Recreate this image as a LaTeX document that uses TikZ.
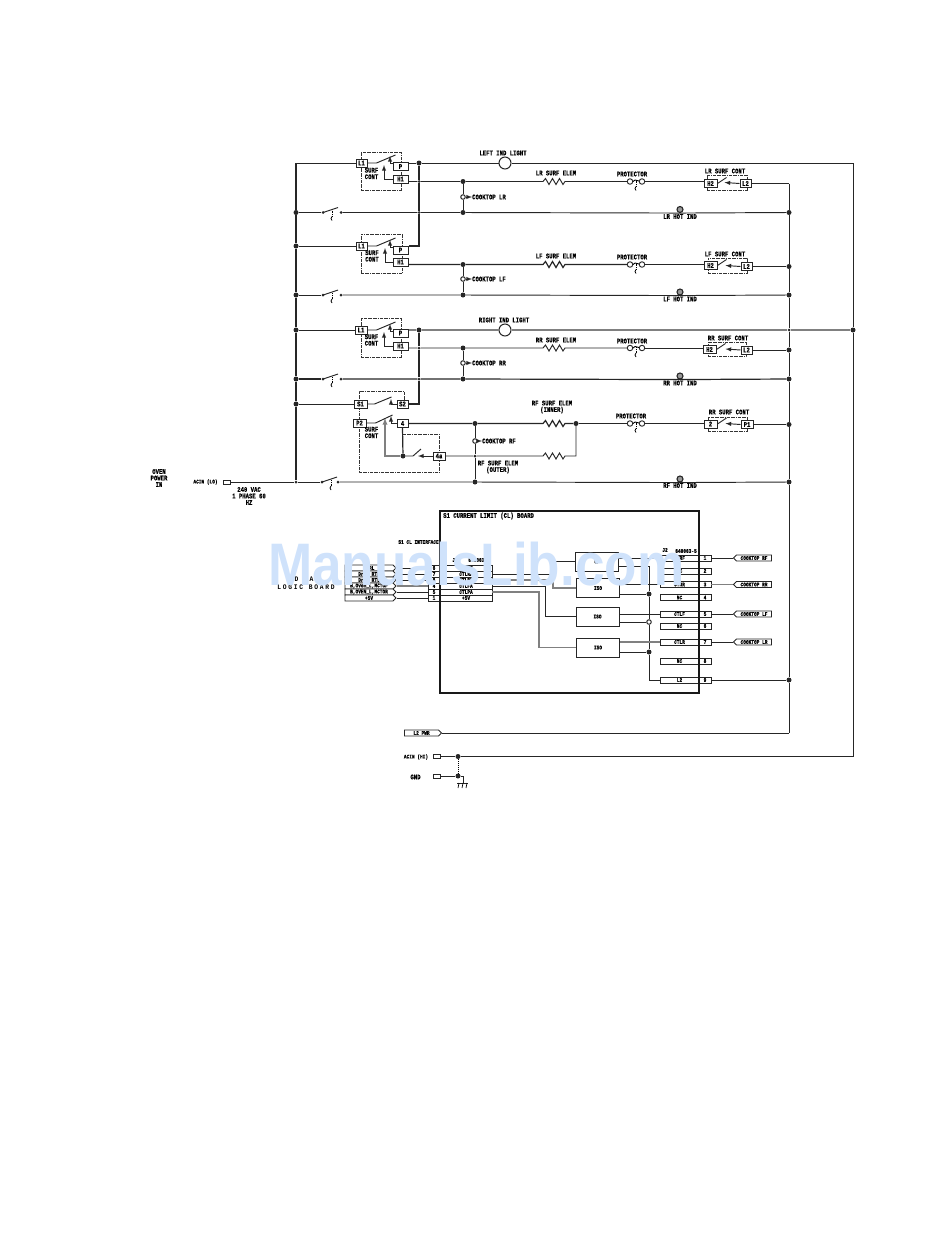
\documentclass[tikz,border=0pt]{standalone}
\usepackage{fontspec}
\usetikzlibrary{shapes.symbols}
\newfontfamily\wirefont[FakeStretch=0.8,BoldFeatures={FakeBold=0.4}]{Liberation Mono}
\newfontfamily\logicfont[FakeStretch=0.9,LetterSpace=25]{Liberation Mono}
\newfontfamily\markfont[FakeStretch=0.885]{Liberation Sans}
\definecolor{markblue}{HTML}{CFE2FB}
\newcommand{\bigtext}{\wirefont\bfseries\fontsize{7}{6.5}\selectfont}
\newcommand{\smalltext}{\wirefont\bfseries\fontsize{5.6}{5.6}\selectfont}
\newcommand{\zig}{-- ++(2.5,-3) -- ++(3.5,6) -- ++(3.5,-6) -- ++(3.5,6) -- ++(3.5,-6) -- ++(3.5,6) -- ++(2,-3)}
\tikzset{
  wire/.style={line width=.95pt,black!85},
  gwire/.style={line width=1.3pt,black!50},
  cwire/.style={wire,->,>=latex},
  jct/.style={circle,fill=black!85,minimum size=5pt,inner sep=0pt},
  ojct/.style={circle,draw=black!85,fill=white,line width=1pt,minimum size=4.5pt,inner sep=0pt},
  tdot/.style={circle,fill=black!85,minimum size=3pt,inner sep=0pt},
  lab/.style={font=\bigtext,inner sep=0pt,align=center},
  slab/.style={font=\smalltext,inner sep=0pt,align=center},
  cbox/.style={draw=black!85,fill=white,line width=1pt,font=\bigtext,inner sep=0pt,minimum width=#1,minimum height=8pt},
  cbox/.default=15pt,
  scont/.style={draw=black!80,densely dashdotted,line width=.8pt,inner sep=0pt},
  lamp/.style={circle,draw=black!85,fill=white,line width=1pt,minimum size=12pt,inner sep=0pt},
  prot/.style={circle,draw=black!85,fill=white,line width=.9pt,minimum size=5.5pt,inner sep=0pt},
  ind/.style={circle,draw=black!85,fill=black!40,line width=1.1pt,minimum size=6pt,inner sep=0pt},
  rowbox/.style={draw=black!85,fill=white,line width=.9pt,font=\smalltext,inner sep=0pt,minimum height=6pt,minimum width=#1},
  tagw/.style={signal,signal to=west,draw=black!85,fill=white,line width=.9pt,font=\smalltext,inner sep=0pt,minimum height=6pt,minimum width=38pt},
  tage/.style={signal,signal to=east,draw=black!85,fill=white,line width=.9pt,font=\smalltext,inner sep=0pt,minimum height=6pt,minimum width=#1},
  isobox/.style={draw=black!85,fill=white,line width=1pt,font=\smalltext,inner sep=0pt,minimum width=43pt,minimum height=19pt},
  acbox/.style={draw=black!85,fill=white,line width=.9pt,inner sep=0pt,minimum width=7pt,minimum height=4pt},
  handsw/.pic={
    \draw[wire] (0,0) -- (15,-5);
    \draw[line width=.8pt,densely dotted] (9,-2) -- (9,4);
    \draw[line width=.8pt] (9,4) -- (8,6) -- (9,8);
  },
  protlink/.pic={
    \draw[line width=.9pt] (3,0) -- (5,-1.5) -- (9,-.5);
    \draw[line width=.8pt,densely dotted] (6,-1) -- (6,5);
    \draw[line width=.8pt] (6,5) -- (5,7) -- (6,9);
  }
}
\begin{document}
\begin{tikzpicture}[x=1pt,y=-1pt]
  \useasboundingbox (0,0) rectangle (950,1237);

  % left feed and far right return
  \node[tdot] (acjoin) at (296,482) {};
  \coordinate (bustop) at (296,163);
  \coordinate (tr) at (853,163);
  \coordinate (br) at (853,756.5);
  \coordinate (rbustop) at (789,183.5);
  \coordinate (rbusend) at (789,733);

  % junctions, left bus
  \node[jct] (la1) at (296,212.5) {};
  \node[jct] (la2) at (296,246) {};
  \node[jct] (la3) at (296,295) {};
  \node[jct] (la4) at (296,330) {};
  \node[jct] (la5) at (296,379) {};
  \node[jct] (la6) at (296,404) {};

  % junctions, inner bus
  \node[jct] (ib1) at (419,163) {};
  \node[tdot] (ib2) at (419,181.5) {};
  \node[tdot] (ib3) at (419,212.5) {};
  \node[jct] (ib4) at (419,330) {};
  \node[tdot] (ib5) at (419,348) {};
  \node[tdot] (ib6) at (419,379) {};
  \coordinate (ib7) at (419,246);
  \coordinate (ib8) at (419,404);

  % junctions, cooktop columns
  \node[jct] (ca1) at (463,181.5) {};
  \node[ojct] (ca2) at (463,197) {};
  \node[jct] (ca3) at (463,212.5) {};
  \node[jct] (cb1) at (463,264.5) {};
  \node[ojct] (cb2) at (463,279) {};
  \node[jct] (cb3) at (463,295) {};
  \node[jct] (cc1) at (463,348) {};
  \node[ojct] (cc2) at (463,363) {};
  \node[jct] (cc3) at (463,379) {};
  \node[jct] (cd1) at (475,423.5) {};
  \node[ojct] (cd2) at (475,441) {};
  \node[tdot] (cd3) at (475,456) {};
  \node[jct] (cd4) at (475,482) {};

  % junctions, right bus
  \node[jct] (ra1) at (789,212.5) {};
  \node[jct] (ra2) at (789,266.5) {};
  \node[jct] (ra3) at (789,295) {};
  \node[tdot] (ra4) at (789,330) {};
  \node[jct] (ra5) at (789,350) {};
  \node[jct] (ra6) at (789,379) {};
  \node[jct] (ra7) at (789,424.5) {};
  \node[jct] (ra8) at (789,482) {};
  \node[jct] (ra9) at (789,680) {};
  \node[jct] (fr1) at (853,330) {};

  % surface controls
  \node[scont,minimum width=40pt,minimum height=38pt] (sc1) at (381,171) {};
  \node[scont,minimum width=41pt,minimum height=39pt] (sc2) at (381.5,253.5) {};
  \node[scont,minimum width=40pt,minimum height=39pt] (sc3) at (381,337.5) {};
  \draw[scont] (404,400) -- (404,391) -- (359,391) -- (359,472) -- (439,472) -- (439,434) -- (403,434);

  \node[cbox=11pt] (lr1) at (361.5,163) {L1};
  \node[cbox] (lrp) at (400.5,166.5) {P};
  \node[cbox] (lrh) at (400.5,179) {H1};
  \node[cbox=11pt] (lf1) at (361.5,246) {L1};
  \node[cbox] (lfp) at (400.5,250) {P};
  \node[cbox] (lfh) at (400.5,262) {H1};
  \node[cbox=12pt] (rr1) at (361,330) {L1};
  \node[cbox] (rrp) at (400.5,333) {P};
  \node[cbox] (rrh) at (400.5,346) {H1};
  \node[cbox=13pt] (rfs1) at (360.5,404) {S1};
  \node[cbox=11pt] (rfs2) at (402.5,404) {S2};
  \node[cbox=13pt] (rfp2) at (359.5,423) {P2};
  \node[cbox=11pt] (rf4) at (402.5,423.5) {4};
  \node[cbox=12pt] (rf4a) at (439,456) {4a};

  \node[scont,minimum width=40pt,minimum height=15pt] (sd1) at (727,182.5) {};
  \node[scont,minimum width=39pt,minimum height=15pt] (sd2) at (727.5,265.5) {};
  \node[scont,minimum width=38pt,minimum height=14pt] (sd3) at (727,349) {};
  \node[scont,minimum width=39pt,minimum height=14pt] (sd4) at (727.5,424) {};
  \node[cbox=13pt] (lrh2) at (710.5,183.5) {H2};
  \node[cbox=11pt] (lrl2) at (745.5,183.5) {L2};
  \node[cbox=13pt] (lfh2) at (710.5,265.5) {H2};
  \node[cbox=11pt] (lfl2) at (746.5,266.5) {L2};
  \node[cbox=13pt] (rrh2) at (709.5,349.5) {H2};
  \node[cbox=11pt] (rrl2) at (746.5,350) {L2};
  \node[cbox=13pt] (rfh2) at (710.5,424) {2};
  \node[cbox=12pt] (rfp1) at (747,424.5) {P1};

  % lamps, protectors
  \node[lamp] (lmp1) at (505,163) {};
  \node[lamp] (lmp2) at (505,330) {};
  \node[prot] (pa1) at (630,181.5) {};
  \node[prot] (pa2) at (642,181.5) {};
  \node[prot] (pb1) at (630,264.5) {};
  \node[prot] (pb2) at (642,264.5) {};
  \node[prot] (pc1) at (630,348) {};
  \node[prot] (pc2) at (642,348) {};
  \node[prot] (pd1) at (630,423.5) {};
  \node[prot] (pd2) at (642,423.5) {};
  \pic at (pa1) {protlink};
  \pic at (pb1) {protlink};
  \pic at (pc1) {protlink};
  \pic at (pd1) {protlink};

  % hand switches
  \node[tdot] (swa1) at (323,212.5) {};
  \node[tdot] (swa2) at (341,212.5) {};
  \node[tdot] (swb1) at (323,295) {};
  \node[tdot] (swb2) at (341,295) {};
  \node[tdot] (swc1) at (323,379) {};
  \node[tdot] (swc2) at (341,379) {};
  \node[tdot] (swd1) at (322,482) {};
  \node[tdot] (swd2) at (338,482) {};
  \pic at (swa1) {handsw};
  \pic at (swb1) {handsw};
  \pic at (swc1) {handsw};
  \pic at (swd1) {handsw};

  % indicators
  \node[ind] (nda) at (680,209.5) {};
  \node[ind] (ndb) at (680,292) {};
  \node[ind] (ndc) at (680,376) {};
  \node[ind] (ndd) at (680,479) {};

  % main wiring
  \draw[wire,line width=1.2pt] (bustop) -- (la1) -- (la2) -- (la3) -- (la4) -- (la5) -- (la6) -- (acjoin);
  \draw[wire] (bustop) -- (bustop -| lr1.west);
  \draw[wire] (ib1) -- (ib1 -| lrp.east);
  \draw[wire] (ib1) -- (lmp1) -- (tr) -- (fr1) -- (br);
  \draw[wire,line width=1.2pt] (ib1) -- (ib2) -- (ib3) -- (ib7) -- (ib7 -| lfp.east);
  \draw[wire,line width=1.2pt] (ib4) -- (ib5) -- (ib6) -- (ib8) -- (ib8 -| rfs2.east);
  \draw[gwire] (ib4 -| rrp.east) -- (ib4) -- (lmp2) -- (ra4) -- (fr1);
  \draw[wire] (rbustop) -- (ra1) -- (ra2) -- (ra3) -- (ra4) -- (ra5) -- (ra6) -- (ra7) -- (ra8) -- (ra9) -- (rbusend);

  % LR row
  \draw[wire] (ib2 -| lrh.east) -- (ib2) -- (ca1) -- (543,181.5) \zig -- (pa1);
  \draw[wire] (pa2) -- (pa2 -| lrh2.west);
  \draw[wire] (lrl2.east) -- (rbustop);
  \draw[wire] (la1) -- (swa1);
  \draw[wire] (swa2) -- (ib3) -- (ca3) -- (nda.south) -- (ra1);
  \draw[wire] (ca1) -- (ca2) -- (ca3);
  % LF row
  \draw[wire] (la2) -- (lf1.west);
  \draw[wire,line width=1.2pt] (cb1 -| lfh.east) -- (cb1) -- (543,264.5) \zig -- (pb1);
  \draw[wire] (pb2) -- (pb2 -| lfh2.west);
  \draw[wire,line width=1.2pt] (lfl2.east) -- (ra2);
  \draw[wire] (la3) -- (swb1);
  \draw[wire] (swb2) -- (cb3) -- (ndb.south) -- (ra3);
  \draw[wire] (cb1) -- (cb2) -- (cb3);
  % RR row
  \draw[wire] (la4) -- (rr1.west);
  \draw[wire] (ib5 -| rrh.east) -- (ib5) -- (cc1) -- (543,348) \zig -- (pc1);
  \draw[wire] (pc2) -- (pc2 -| rrh2.west);
  \draw[wire] (rrl2.east) -- (ra5);
  \draw[wire,line width=1.2pt] (la5) -- (swc1);
  \draw[wire,line width=1.2pt] (swc2) -- (ib6) -- (cc3) -- (ndc.south) -- (ra6);
  \draw[wire] (cc1) -- (cc2) -- (cc3);
  % RF row
  \draw[wire] (la6) -- (rfs1.west);
  \node[jct] (rfend) at (576,423.5) {};
  \draw[wire,line width=1.2pt] (rf4.east) -- (cd1) -- (543,423.5) \zig -- (rfend);
  \draw[wire] (rfend) -- (pd1);
  \draw[wire] (pd2) -- (pd2 -| rfh2.west);
  \draw[wire,line width=1.2pt] (rfp1.east) -- (ra7);
  \draw[wire] (cd1) -- (cd2) -- (cd3) -- (cd4);
  \draw[wire] (rf4a.east) -- (cd3) -- (543,456) \zig -- (576,456) -- (rfend);
  \node[jct] (rfsw) at (403,456) {};
  \draw[wire,line width=1.2pt] (rf4.south) -- (rfsw);
  \draw[gwire,<-,>=latex] (385,418) -- (385,456) -- (rfsw);
  \draw[wire] (rfsw) -- (413,456) -- ++(8,-7);
  \draw[cwire] (rf4a.west) -- (418,456);
  % contacts
  \draw[wire] (lr1.east) -- ++(9,0) -- ++(19,-8);
  \draw[cwire] (lrp.west |- 0,163) -- (390,163) -- (390,156);
  \draw[cwire] (lrh.west) -- (384,179) -- (384,165);
  \draw[wire] (lf1.east) -- ++(9,0) -- ++(19,-8);
  \draw[cwire] (lfp.west |- 0,247) -- (390,247) -- (390,240);
  \draw[cwire] (lfh.west) -- (385,262) -- (385,248);
  \draw[wire] (rr1.east) -- ++(9,0) -- ++(19,-8);
  \draw[cwire] (rrp.west |- 0,331) -- (390,331) -- (390,324);
  \draw[cwire] (rrh.west) -- (384,346) -- (384,332);
  \draw[wire] (rfs1.east) -- ++(7,0) -- ++(17,-7);
  \draw[cwire] (rfs2.west) -- (391,404) -- (391,399);
  \draw[wire] (rfp2.east) -- ++(9,0) -- ++(17,-8);
  \draw[cwire] (rf4.west) -- (391,423.5) -- (391,416);
  \draw[wire] (lrh2.east) -- ++(9,-6);
  \draw[cwire] (lrl2.west) -- ++(-15,-1);
  \draw[wire] (lfh2.east) -- ++(9,-6);
  \draw[cwire] (lfl2.west) -- ++(-15,-1);
  \draw[wire] (rrh2.east) -- ++(9,-6);
  \draw[cwire] (rrl2.west) -- ++(-15,-1);
  \draw[wire] (rfh2.east) -- ++(9,-6);
  \draw[cwire] (rfp1.west) -- ++(-15,-1);

  % AC feed
  \node[acbox] (acl) at (226.5,482) {};
  \draw[wire] (acl.east) -- (acjoin) -- (swd1);
  \draw[wire] (swd2) -- (cd4) -- (ndd.south) -- (ra8);

  % logic board connector
  \node[tage=51pt] (lg1) at (369,568) {CTRL};
  \node[tage=51pt] (lg2) at (369,574) {DrvI RTL};
  \node[tage=51pt] (lg3) at (369,580) {DrvI RTL};
  \node[tage=51pt] (lg4) at (369,586) {B,Oven\_L,MCTOF};
  \node[tage=51pt] (lg5) at (369,592) {B,OVEN\_L,MCTOR};
  \node[tage=51pt] (lg6) at (369,598) {+5V};

  % S1 connector rows
  \node[rowbox=12pt] (ja1) at (434,568) {6};
  \node[rowbox=12pt] (ja2) at (434,574) {7};
  \node[rowbox=12pt] (ja3) at (434,580) {8};
  \node[rowbox=12pt] (ja4) at (434,586) {4};
  \node[rowbox=12pt] (ja5) at (434,592) {5};
  \node[rowbox=12pt] (ja6) at (434,598) {1};
  \node[rowbox=52pt] (jb1) at (466,568) {CTLRF};
  \node[rowbox=52pt] (jb2) at (466,574) {CTLRA};
  \node[rowbox=52pt] (jb3) at (466,580) {CTLRR};
  \node[rowbox=52pt] (jb4) at (466,586) {CTLFA};
  \node[rowbox=52pt] (jb5) at (466,592) {CTLPA};
  \node[rowbox=52pt] (jb6) at (466,598) {+5V};
  \draw[wire] (lg1.east) -- (ja1.west);
  \draw[wire] (lg2.east) -- (ja2.west);
  \draw[wire] (lg3.east) -- (ja3.west);
  \draw[gwire] (lg4.east) -- (ja4.west);
  \draw[wire] (lg5.east) -- (ja5.west);
  \draw[wire] (lg6.east) -- (ja6.west);

  % board blocks
  \node[isobox] (up) at (597,561.5) {uP};
  \node[isobox] (iso1) at (598,588) {ISO};
  \node[isobox] (iso2) at (597.5,616.5) {ISO};
  \node[isobox] (iso3) at (598,647.5) {ISO};

  % J2 rows
  \node[rowbox=39pt] (jc1) at (679.5,558) {CTRF};
  \node[rowbox=39pt] (jc2) at (679.5,571) {NC};
  \node[rowbox=39pt] (jc3) at (679.5,584.5) {CTRR};
  \node[rowbox=39pt] (jc4) at (679.5,597.5) {NC};
  \node[rowbox=39pt] (jc5) at (679.5,614) {CTLF};
  \node[rowbox=39pt] (jc6) at (679.5,626) {NC};
  \node[rowbox=39pt] (jc7) at (679.5,642) {CTLR};
  \node[rowbox=39pt] (jc8) at (679.5,661) {NC};
  \node[rowbox=39pt] (jc9) at (679.5,680) {L2};
  \node[rowbox=12pt] (jd1) at (705,558) {1};
  \node[rowbox=12pt] (jd2) at (705,571) {2};
  \node[rowbox=12pt] (jd3) at (705,584.5) {3};
  \node[rowbox=12pt] (jd4) at (705,597.5) {4};
  \node[rowbox=12pt] (jd5) at (705,614) {5};
  \node[rowbox=12pt] (jd6) at (705,626) {6};
  \node[rowbox=12pt] (jd7) at (705,642) {7};
  \node[rowbox=12pt] (jd8) at (705,661) {8};
  \node[rowbox=12pt] (jd9) at (705,680) {9};
  \node[tagw] (tg1) at (754,558) {COOKTOP RF};
  \node[tagw] (tg3) at (754,584.5) {COOKTOP RR};
  \node[tagw] (tg5) at (754,614) {COOKTOP LF};
  \node[tagw] (tg7) at (754,642) {COOKTOP LR};

  % board wiring
  \draw[wire] (jb2.east) -- (552,574) |- (up.west);
  \draw[gwire] (jb3.east) -- (553,580) |- (iso1.west);
  \draw[wire] (jb4.east) -- (545,586) |- (iso2.west);
  \draw[gwire] (jb5.east) -- (539,592) |- (iso3.west);
  \node[jct] (bs1) at (649,594) {};
  \node[ojct] (bs2) at (649,622) {};
  \node[jct] (bs3) at (649,652) {};
  \draw[wire] (up.east |- 0,558) -- (jc1.west);
  \draw[wire] (up.east |- 0,566) -- (649,566) -- (bs1) -- (bs2) -- (bs3) -- (649,680) -- (jc9.west);
  \draw[wire] (iso1.east |- 0,584.5) -- (jc3.west);
  \draw[wire] (iso1.east |- bs1) -- (bs1);
  \draw[wire] (iso2.east |- 0,614) -- (jc5.west);
  \draw[wire] (iso2.east |- bs2) -- (bs2);
  \draw[gwire] (iso3.east |- 0,642) -- (jc7.west);
  \draw[wire] (iso3.east |- bs3) -- (bs3);
  \draw[wire] (jd1.east) -- (tg1.west);
  \draw[gwire] (jd3.east) -- (tg3.west);
  \draw[wire] (jd5.east) -- (tg5.west);
  \draw[wire] (jd7.east) -- (tg7.west);
  \draw[wire] (jd9.east) -- (ra9);

  \node[draw=black!90,line width=2.6pt,inner sep=0pt,minimum width=259pt,minimum height=182pt] (board) at (569.5,602) {};

  % bottom feeds
  \node[tage=37pt] (l2tag) at (421.5,733) {L2 PWR};
  \node[acbox] (ach) at (437,756.5) {};
  \node[acbox] (gnd) at (437,776) {};
  \node[jct] (hj) at (458,756.5) {};
  \node[jct] (gj) at (458,776) {};
  \draw[wire] (l2tag.east) -- (rbusend);
  \draw[wire] (ach.east) -- (hj) -- (br);
  \draw[wire] (gnd.east) -- (gj);
  \draw[line width=.9pt,densely dotted] (hj) -- (gj);
  \draw[wire] (gj) -- ++(5,0) -- ++(0,7) ++(-6,0) -- ++(11,0);
  \draw[line width=.7pt] (459,783) -- ++(-1,5) (463,783) -- ++(-1,5) (467,783) -- ++(-1,5);

  % labels
  \node[lab] (tla) at (503,153) {LEFT IND LIGHT};
  \node[lab] (tlb) at (504,320) {RIGHT IND LIGHT};
  \node[lab] (tea) at (556,173) {LR SURF ELEM};
  \node[lab] (teb) at (556,256) {LF SURF ELEM};
  \node[lab] (tec) at (556,340) {RR SURF ELEM};
  \node[lab] (ted) at (552,407) {RF SURF ELEM\\(INNER)};
  \node[lab] (tee) at (498,467) {RF SURF ELEM\\(OUTER)};
  \node[lab] (tpa) at (632,174) {PROTECTOR};
  \node[lab] (tpb) at (632,257) {PROTECTOR};
  \node[lab] (tpc) at (632,341) {PROTECTOR};
  \node[lab] (tpd) at (631,416) {PROTECTOR};
  \node[lab] (tsa) at (725,171) {LR SURF CONT};
  \node[lab] (tsb) at (725,254) {LF SURF CONT};
  \node[lab] (tsc) at (728,338) {RR SURF CONT};
  \node[lab] (tsd) at (729,412) {RR SURF CONT};
  \node[lab,anchor=west] (tca) at (472,197) {COOKTOP LR};
  \node[lab,anchor=west] (tcb) at (472,279) {COOKTOP LF};
  \node[lab,anchor=west] (tcc) at (472,363) {COOKTOP RR};
  \node[lab,anchor=west] (tcd) at (482,441) {COOKTOP RF};
  \draw[cwire] (ca2) -- (tca.west);
  \draw[cwire] (cb2) -- (tcb.west);
  \draw[cwire] (cc2) -- (tcc.west);
  \draw[cwire] (cd2) -- (tcd.west);
  \node[lab] (sca) at (371.5,173.5) {SURF\\CONT};
  \node[lab] (scb) at (372,256) {SURF\\CONT};
  \node[lab] (scc) at (371.5,340) {SURF\\CONT};
  \node[lab] (scd) at (371.5,432.5) {SURF\\CONT};
  \node[lab] (hta) at (680,216.5) {LR HOT IND};
  \node[lab] (htb) at (680,299) {LF HOT IND};
  \node[lab] (htc) at (680,383) {RR HOT IND};
  \node[lab] (htd) at (680,485.5) {RF HOT IND};
  \node[lab] (ovn) at (159,478) {OVEN\\POWER\\IN};
  \node[slab] (acn) at (205.5,482) {ACIN (LO)};
  \node[lab] (vac) at (249,496) {240 VAC\\1 PHASE 60\\HZ};
  \node[lab,anchor=west] (ttl) at (443,516) {S1 CURRENT LIMIT (CL) BOARD};
  \node[slab] (ifc) at (418.5,542) {S1 CL INTERFACE};
  \node[slab] (jone) at (455,560) {J1};
  \node[slab] (jonb) at (479,560) {640063-6};
  \node[slab] (jtwo) at (665,550) {J2};
  \node[slab] (jtwb) at (686,551) {640063-5};
  \node[font=\logicfont\bfseries\fontsize{7}{7}\selectfont,inner sep=0pt] (lgb) at (306,587) {LOGIC BOARD};
  \node[font=\logicfont\bfseries\fontsize{7}{7}\selectfont,inner sep=0pt] (lga) at (304,579.5) {D~~A};
  \node[slab] (ach2) at (416,757) {ACIN (HI)};
  \node[lab] (gnd2) at (415.5,777) {GND};

  % site mark across the sheet
  \node[font=\markfont\bfseries\fontsize{60}{60}\selectfont,text=markblue,inner sep=0pt,anchor=base west] (smark) at (268,585) {ManualsLib.com};
\end{tikzpicture}
\end{document}
